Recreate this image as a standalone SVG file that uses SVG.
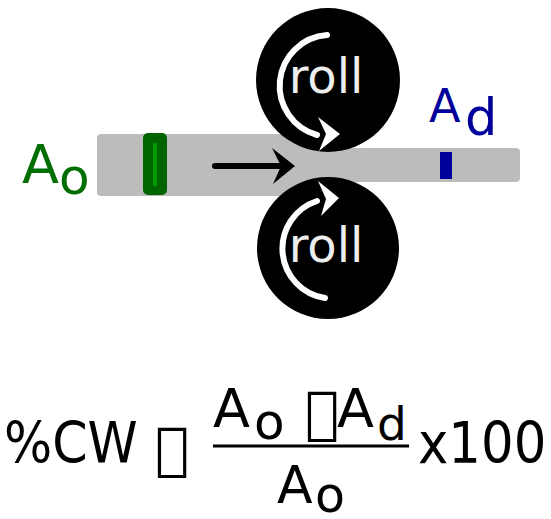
<svg xmlns="http://www.w3.org/2000/svg" width="551" height="519" viewBox="0 0 551 519">
  <style>
    text { font-family: "DejaVu Sans", "Liberation Sans", sans-serif; }
    .roll-label { fill: #eeeeee; font-size: 48px; text-anchor: middle; }
    .green { fill: #006e00; }
    .blue { fill: #00009a; }
    .formula { fill: #000000; }
    .turn { fill: none; stroke: #ffffff; stroke-width: 6; stroke-linecap: round; }
  </style>

  <!-- strip being rolled: thick before the rolls, thin after -->
  <g id="strip">
    <rect x="97" y="134" width="212" height="62" rx="4" fill="#bcbcbc"/>
    <rect x="97" y="148" width="423" height="34" rx="4" fill="#bcbcbc"/>
  </g>

  <!-- gauge marks on the strip -->
  <g id="mark-original">
    <rect x="143" y="133" width="24" height="62" rx="5" fill="#006400"/>
    <rect x="153" y="143" width="4" height="43" fill="#009a00"/>
  </g>
  <g id="mark-deformed">
    <rect x="440" y="152" width="12" height="27" fill="#00009a"/>
  </g>

  <!-- upper roll -->
  <g id="roll-top">
    <circle cx="328" cy="80" r="72" fill="#000000"/>
    <text class="roll-label" x="326" y="93">roll</text>
    <path class="turn" d="M 327 35 A 51 51 0 0 0 317 135"/>
    <polygon points="318,117 340,134 319,151 326,134" fill="#ffffff"/>
  </g>

  <!-- lower roll -->
  <g id="roll-bottom">
    <circle cx="328" cy="248" r="71" fill="#000000"/>
    <text class="roll-label" x="326" y="262">roll</text>
    <path class="turn" d="M 325 298 A 50 50 0 0 1 317 201"/>
    <polygon points="318,181 339,198 321,216 326,199" fill="#ffffff"/>
  </g>

  <!-- feed direction -->
  <g id="connectors">
    <line x1="215" y1="166" x2="283" y2="166" stroke="#000000" stroke-width="6" stroke-linecap="round"/>
    <polygon points="272,148 295,166 273,184 281,166" fill="#000000"/>
  </g>

  <!-- area labels -->
  <g id="label-ao">
    <text class="green" x="22" y="183" font-size="54">A</text>
    <text class="green" x="59" y="194" font-size="50">o</text>
  </g>
  <g id="label-ad">
    <text class="blue" x="429" y="122" font-size="46">A</text>
    <text class="blue" x="465" y="135" font-size="51">d</text>
  </g>

  <!-- cold work formula -->
  <g id="formula" class="formula">
    <text transform="translate(4,463) scale(0.89,1)" font-size="57">%CW</text>
    <text x="155" y="468" font-size="57">&#xF03D;</text>
    <text x="213" y="427" font-size="54">A</text>
    <text x="254" y="439" font-size="50">o</text>
    <text x="305" y="432" font-size="57">&#xF02D;</text>
    <text x="337" y="427" font-size="54">A</text>
    <text x="377" y="440" font-size="47">d</text>
    <line x1="213" y1="446" x2="409" y2="446" stroke="#000000" stroke-width="3"/>
    <text x="277" y="503" font-size="52">A</text>
    <text x="315" y="512" font-size="49">o</text>
    <text transform="translate(418,463) scale(0.9,1)" font-size="57">x100</text>
  </g>
</svg>
